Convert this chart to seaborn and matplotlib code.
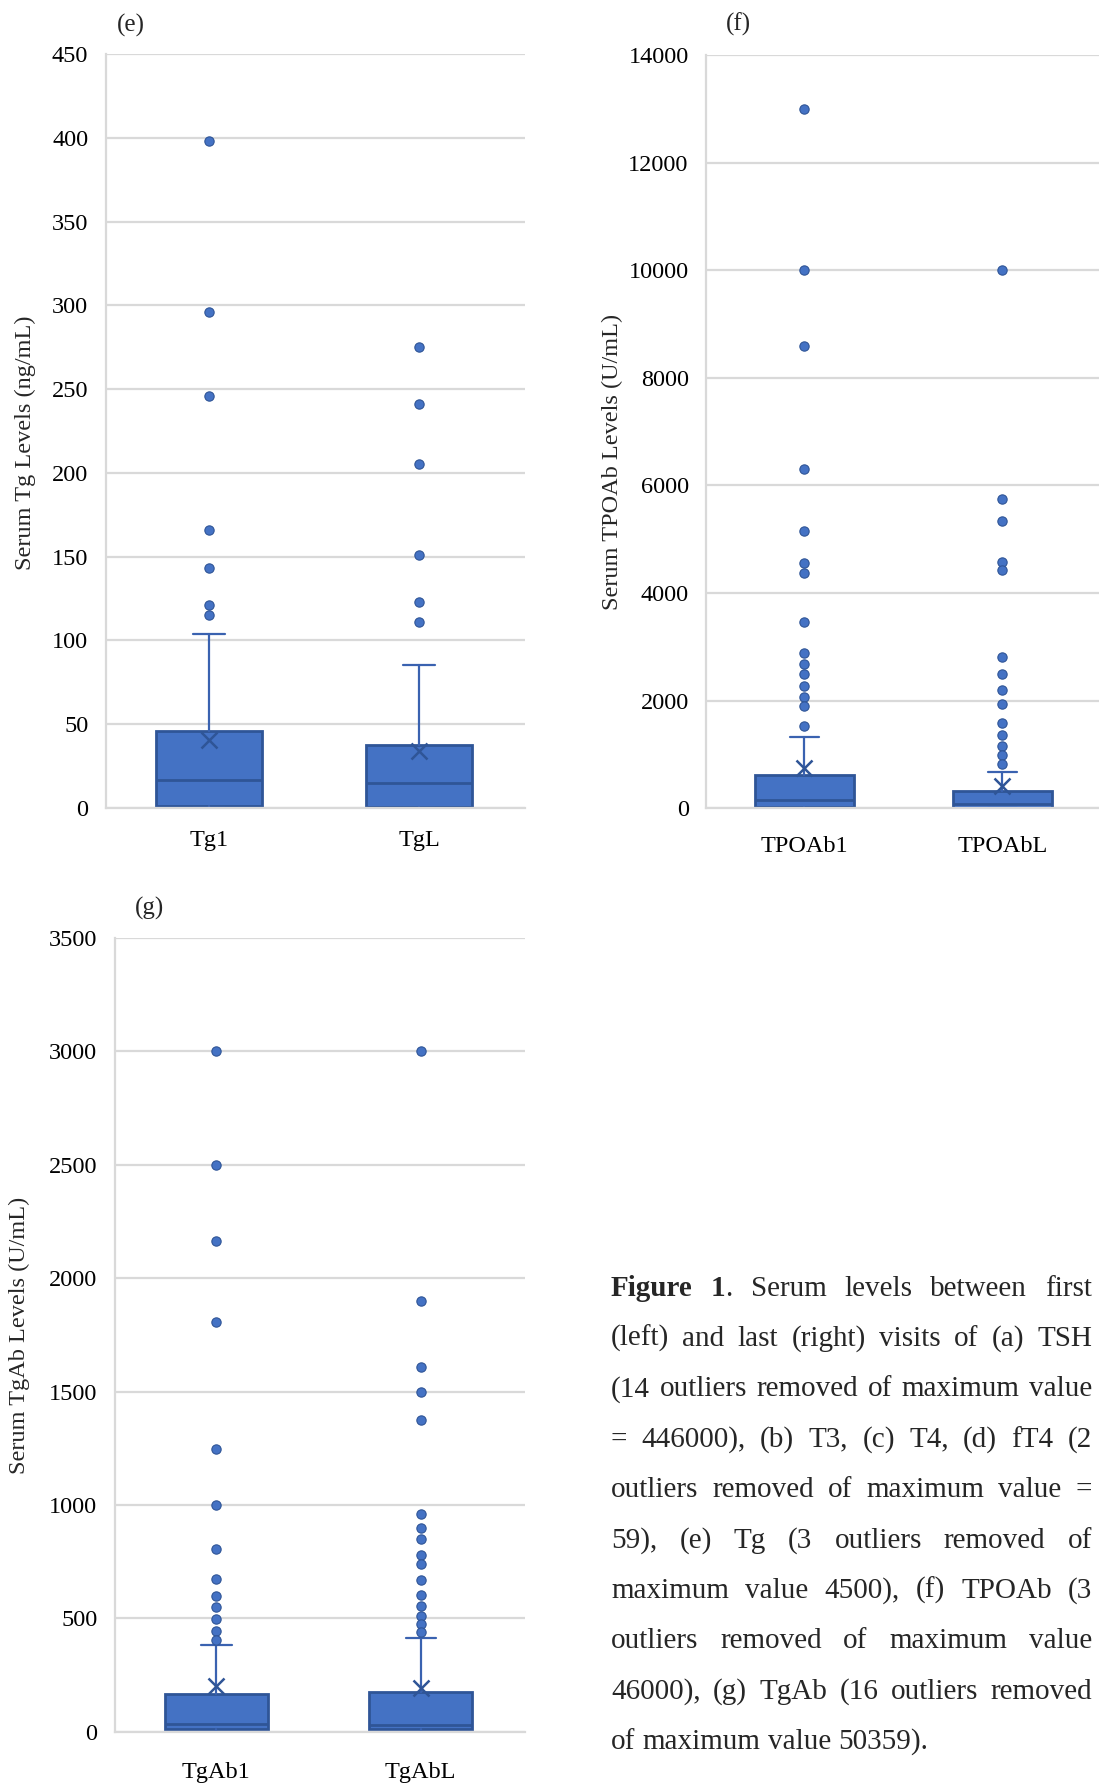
import matplotlib
matplotlib.use("Agg")
import matplotlib.pyplot as plt
import seaborn as sns
import pandas as pd

# ---------------- data ----------------
tg_cats = ["Tg1", "TgL"]
tg_q1 = [1, 0.5]
tg_med = [16.5, 15]
tg_q3 = [46, 37.5]
tg_whislo = [0, 0]
tg_whishi = [104, 85]
tg_mean = [40.5, 34]
tg1_out = [398, 296, 246, 166, 143, 121, 115]
tgL_out = [275, 241, 205, 151, 123, 111]
tg_ticks = [0, 50, 100, 150, 200, 250, 300, 350, 400, 450]

tpo_cats = ["TPOAb1", "TPOAbL"]
tpo_q1 = [20, 10]
tpo_med = [154, 86]
tpo_q3 = [613, 327]
tpo_whislo = [0, 0]
tpo_whishi = [1331, 675]
tpo_mean = [755, 415]
tpo1_out = [13000, 10000, 8600, 6300, 5160, 4550, 4375, 3470, 2890, 2690,
            2500, 2265, 2075, 1905, 1530]
tpoL_out = [10000, 5755, 5340, 4585, 4425, 2810, 2500, 2200, 1940, 1585,
            1355, 1165, 990, 830]
tpo_ticks = [0, 2000, 4000, 6000, 8000, 10000, 12000, 14000]

tgab_cats = ["TgAb1", "TgAbL"]
tgab_q1 = [12, 10]
tgab_med = [36, 30]
tgab_q3 = [166, 176]
tgab_whislo = [0, 0]
tgab_whishi = [384, 412]
tgab_mean = [201, 191]
tgab1_out = [3000, 2500, 2162, 1808, 1246, 1000, 807, 675, 598, 551, 498, 444, 403]
tgabL_out = [3000, 1900, 1609, 1500, 1373, 958, 897, 850, 779, 739, 667, 604,
             553, 510, 475, 438]
tgab_ticks = [0, 500, 1000, 1500, 2000, 2500, 3000, 3500]

caption_lines = [
    [[("Figure", "bold")], [("1", "bold"), (".", "normal")], [("Serum", "normal")],
     [("levels", "normal")], [("between", "normal")], [("first", "normal")]],
    "(left) and last (right) visits of (a) TSH",
    "(14 outliers removed of maximum value",
    "= 446000), (b) T3, (c) T4, (d) fT4 (2",
    "outliers removed of maximum value =",
    "59), (e) Tg (3 outliers removed of",
    "maximum value 4500), (f) TPOAb (3",
    "outliers removed of maximum value",
    "46000), (g) TgAb (16 outliers removed",
    "of maximum value 50359).",
]

# ---------------- style ----------------
sns.set_theme(style="white")
plt.rcParams['font.family'] = ['Liberation Serif', 'DejaVu Serif']

FILL = "#4472C4"
EDGE = "#2F5597"
WHISK = "#3A62B0"
GRID = "#D9D9D9"
TICK_FS = 17.5

W, H = 1099, 1784
fig = plt.figure(figsize=(W / 100, H / 100), dpi=100)
fig.patch.set_facecolor("white")


def px_axes(left, top, right, bottom):
    return fig.add_axes([left / W, 1 - bottom / H, (right - left) / W, (bottom - top) / H])


def panel(ax, cats, q1, med, q3, wlo, whi, mean, out1, out2, ticks, xlim, xpad, bw):
    df = pd.DataFrame({"group": [cats[0]] * len(out1) + [cats[1]] * len(out2),
                       "value": out1 + out2})
    sns.stripplot(data=df, x="group", y="value", order=cats, jitter=False, ax=ax,
                  color=FILL, size=6.7, linewidth=0.8, edgecolor=EDGE, zorder=4)
    stats = []
    for i, c in enumerate(cats):
        stats.append(dict(med=med[i], q1=q1[i], q3=q3[i], whislo=wlo[i], whishi=whi[i],
                          mean=mean[i], fliers=[], label=c))
    ax.bxp(stats, positions=[0, 1], widths=bw, capwidths=0.149, patch_artist=True,
           showmeans=True, meanline=False, showfliers=False, manage_ticks=False,
           boxprops=dict(facecolor=FILL, edgecolor=EDGE, linewidth=2.0),
           medianprops=dict(color=EDGE, linewidth=2.0),
           whiskerprops=dict(color=WHISK, linewidth=1.6),
           capprops=dict(color=WHISK, linewidth=1.6),
           meanprops=dict(marker="x", markeredgecolor=EDGE, markerfacecolor=EDGE,
                          markersize=12, markeredgewidth=1.8))
    ax.set_xlim(*xlim)
    ax.set_ylim(ticks[0], ticks[-1])
    ax.set_yticks(ticks)
    ax.set_yticklabels([str(t) for t in ticks])
    ax.set_xticks([0, 1])
    ax.set_xticklabels(cats)
    ax.set_xlabel("")
    ax.set_ylabel("")
    ax.set_axisbelow(True)
    ax.yaxis.grid(True, color=GRID, linewidth=1.6)
    ax.xaxis.grid(False)
    for s in ["top", "right"]:
        ax.spines[s].set_visible(False)
    for s in ["left", "bottom"]:
        ax.spines[s].set_color(GRID)
        ax.spines[s].set_linewidth(1.6)
    ax.tick_params(axis="both", length=0, labelsize=TICK_FS, colors="black")
    ax.tick_params(axis="y", pad=12.5)
    ax.tick_params(axis="x", pad=xpad)
    ax.set_facecolor("white")


ax_e = px_axes(105.7, 54.3, 525, 807.7)
panel(ax_e, tg_cats, tg_q1, tg_med, tg_q3, tg_whislo, tg_whishi, tg_mean,
      tg1_out, tgL_out, tg_ticks, (-0.492, 1.504), 16, 0.508)

ax_f = px_axes(706, 55, 1099, 808.3)
panel(ax_f, tpo_cats, tpo_q1, tpo_med, tpo_q3, tpo_whislo, tpo_whishi, tpo_mean,
      tpo1_out, tpoL_out, tpo_ticks, (-0.497, 1.488), 20, 0.5)

ax_g = px_axes(114.7, 938, 525, 1731.7)
panel(ax_g, tgab_cats, tgab_q1, tgab_med, tgab_q3, tgab_whislo, tgab_whishi, tgab_mean,
      tgab1_out, tgabL_out, tgab_ticks, (-0.497, 1.51), 21.5, 0.502)


def ftext(x, y, s, **kw):
    return fig.text(x / W, 1 - y / H, s, **kw)


# panel letters
ftext(131, 25, "(e)", fontsize=18, ha="center", va="center")
ftext(738, 24, "(f)", fontsize=18, ha="center", va="center")
ftext(150, 908, "(g)", fontsize=18, ha="center", va="center")

# y labels
ftext(25, 443, "Serum Tg Levels (ng/mL)", fontsize=17.5, rotation=90, ha="center", va="center")
ftext(612, 462, "Serum TPOAb Levels (U/mL)", fontsize=17.5, rotation=90, ha="center", va="center")
ftext(19.5, 1335, "Serum TgAb Levels (U/mL)", fontsize=17.5, rotation=90, ha="center", va="center")

# justified caption
renderer = fig.canvas.get_renderer()
CAP_FS = 21
x0, x1 = 611, 1092
base0, dy = 1295.5, 50.4


def seg_width(txt, weight):
    t = ftext(0, 0, txt, fontsize=CAP_FS, fontweight=weight)
    w = t.get_window_extent(renderer=renderer).width
    t.remove()
    return w


for li, line in enumerate(caption_lines):
    if isinstance(line, str):
        words = [[(w, "normal")] for w in line.split(" ")]
    else:
        words = line
    widths = [sum(seg_width(s, wt) for s, wt in word) for word in words]
    total = sum(widths)
    last = li == len(caption_lines) - 1
    if last or len(words) < 2:
        gap = seg_width("a a", "normal") - seg_width("aa", "normal")
    else:
        gap = (x1 - x0 - total) / (len(words) - 1)
    y = base0 + li * dy
    x = x0
    for word, wdt in zip(words, widths):
        xs = x
        for s, wt in word:
            ftext(xs, y, s, fontsize=CAP_FS, fontweight=wt, ha="left", va="baseline")
            xs += seg_width(s, wt)
        x += wdt + gap

fig.savefig("out.png", dpi=100, facecolor="white")
